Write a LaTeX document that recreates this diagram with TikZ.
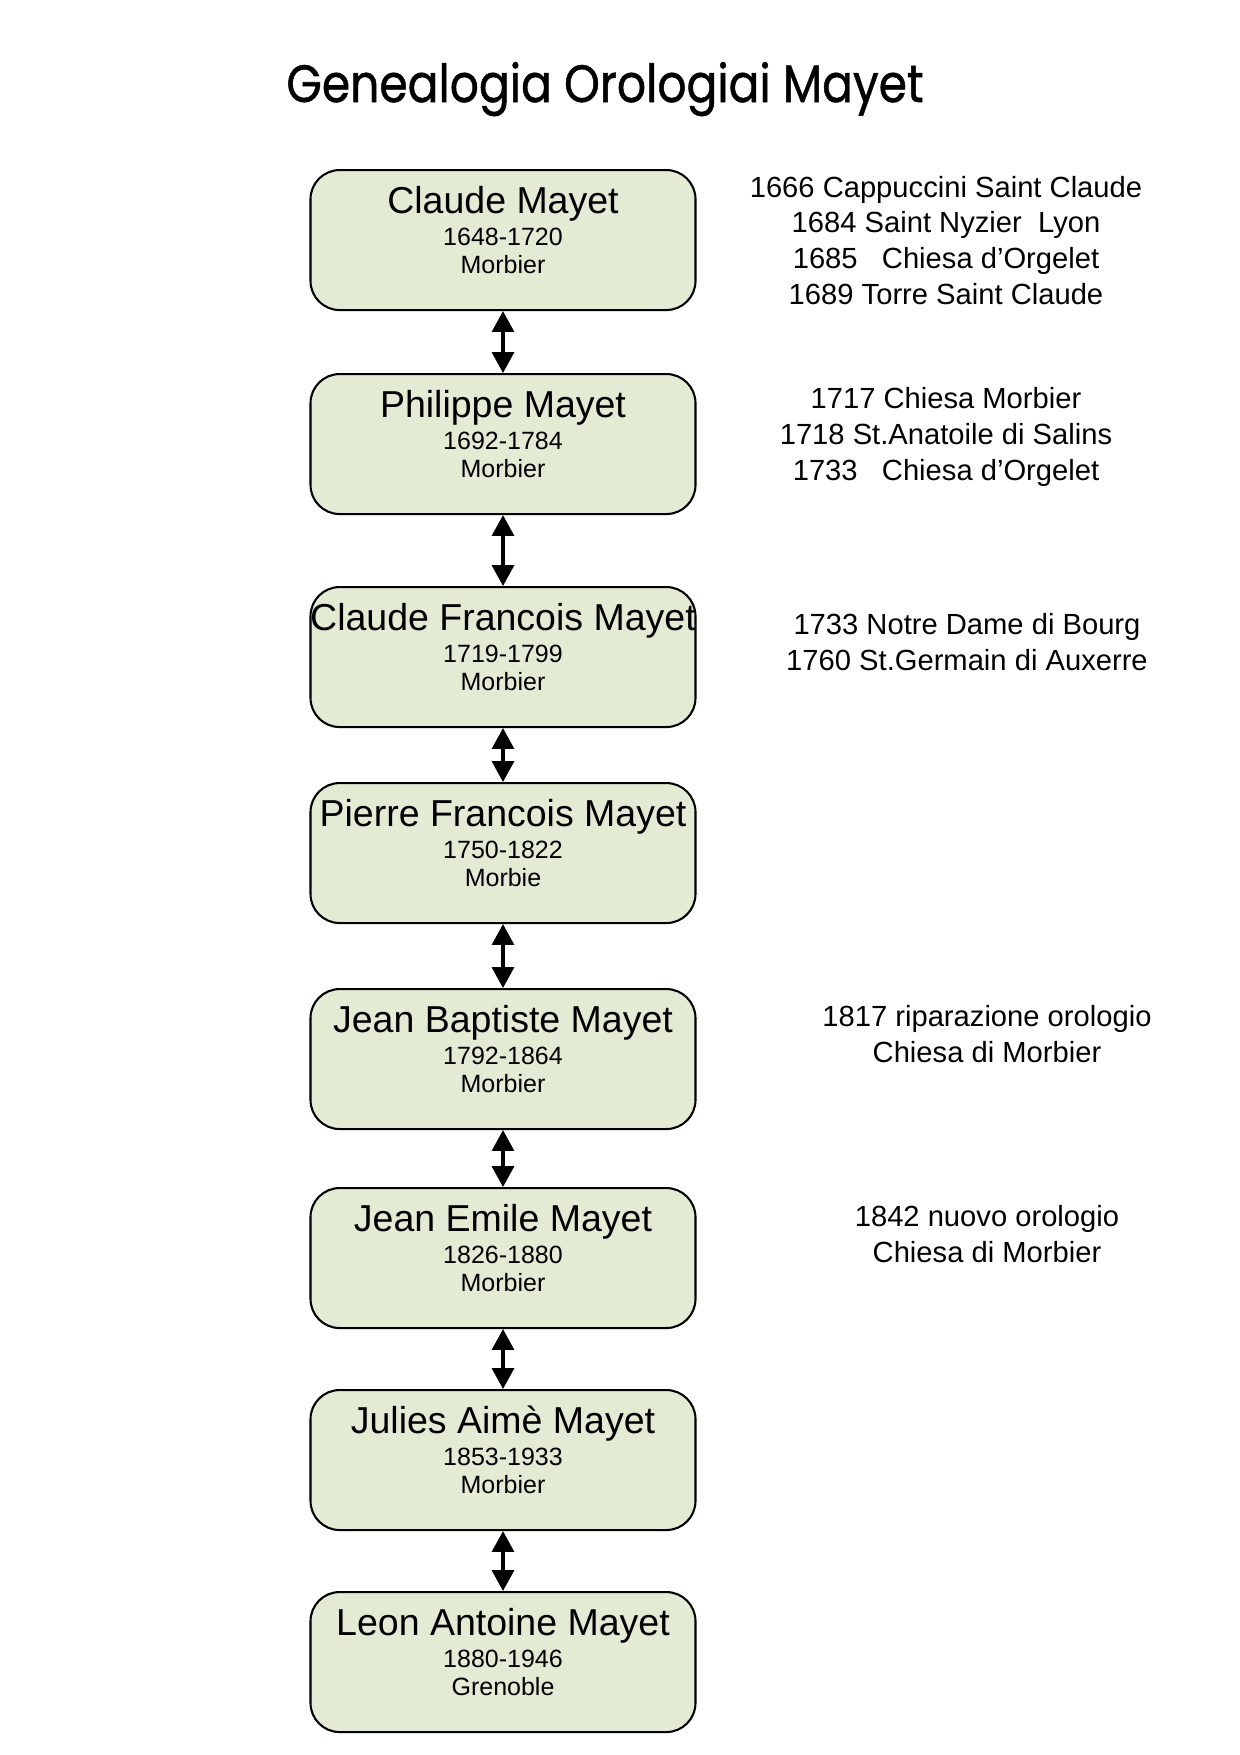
\documentclass[tikz,border=0pt]{standalone}
\usepackage{graphicx}
\usepackage{fontspec}
\setmainfont{Liberation Sans}
\newfontfamily\titlefont[FakeBold=1]{Poppins}
\usetikzlibrary{arrows.meta,calc}
\definecolor{boxgreen}{RGB}{227,235,213}
\tikzset{
  person/.style={draw=black, line width=1pt, fill=boxgreen, rounded corners=14pt,
    minimum width=184.8pt, minimum height=67.2pt, anchor=north, inner sep=0pt},
  pname/.style={anchor=base, inner sep=0pt, font=\fontsize{18}{21}\selectfont},
  pinfo/.style={anchor=base, inner sep=0pt, font=\fontsize{12}{14}\selectfont},
  works/.style={anchor=base, inner sep=0pt, align=center, font=\fontsize{14}{17.1}\selectfont},
  link/.style={{Triangle[width=10.5pt,length=10pt]}-{Triangle[width=10.5pt,length=10pt]}, line width=1.6pt},
}
\begin{document}
\begin{tikzpicture}[x=0.48pt, y=-0.48pt]
  \useasboundingbox (0,0) rectangle (1240,1755);
  % Title
  \node[anchor=base, inner sep=0pt] (title) at (605,102)
    {\resizebox{305.8pt}{19.2pt}{\titlefont Genealogia Orologiai Mayet}};
  % Clockmakers
  \foreach \i/\ytop/\who/\born/\town in {
      1/169/Claude Mayet/1648-1720/Morbier,
      2/373/Philippe Mayet/1692-1784/Morbier,
      3/586/Claude Francois Mayet/1719-1799/Morbier,
      4/782/Pierre Francois Mayet/1750-1822/Morbie,
      5/988/Jean Baptiste Mayet/1792-1864/Morbier,
      6/1187/Jean Emile Mayet/1826-1880/Morbier,
      7/1389/Julies Aimè Mayet/1853-1933/Morbier,
      8/1591/Leon Antoine Mayet/1880-1946/Grenoble} {
    \node[person] (p\i) at (503,\ytop) {};
    \node[pname] (p\i name) at ($(p\i.north)+(0,44)$) {\who};
    \node[pinfo] (p\i years) at ($(p\i.north)+(0,76)$) {\born};
    \node[pinfo] (p\i town) at ($(p\i.north)+(0,104)$) {\town};
  }
  % Father to son
  \foreach \i [count=\j from 2] in {1,...,7}
    \draw[link] (p\i.south) -- (p\j.north);
  % Works (base = last line)
  \node[works] (w1) at (946,304) {1666 Cappuccini Saint Claude\\1684 Saint Nyzier\ \ Lyon\\1685\ \ \ Chiesa d’Orgelet\\1689 Torre Saint Claude};
  \node[works] (w2) at (946,480) {1717 Chiesa Morbier\\1718 St.Anatoile di Salins\\1733\ \ \ Chiesa d’Orgelet};
  \node[works] (w3) at (967,670) {1733 Notre Dame di Bourg\\1760 St.Germain di Auxerre};
  \node[works] (w5) at (987,1062) {1817 riparazione orologio\\Chiesa di Morbier};
  \node[works] (w6) at (987,1262) {1842 nuovo orologio\\Chiesa di Morbier};
\end{tikzpicture}
\end{document}
